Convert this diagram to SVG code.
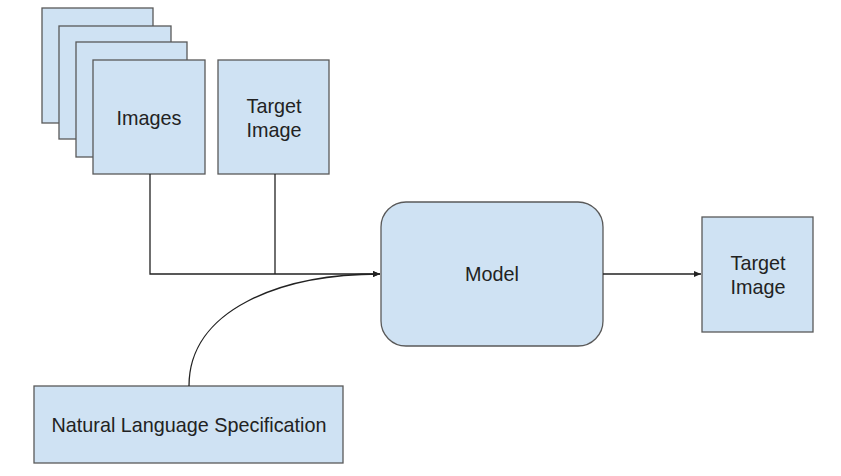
<svg xmlns="http://www.w3.org/2000/svg" width="841" height="476" viewBox="0 0 841 476">
<style>
.box{fill:#cfe2f3;stroke:#595959;stroke-width:1.3}
.t{font-family:"Liberation Sans",Arial,sans-serif;font-size:19.8px;fill:#222;text-anchor:middle;dominant-baseline:central}
.c{fill:none;stroke:#222;stroke-width:1.3}
</style>
<defs>
<marker id="ah" markerWidth="8" markerHeight="8" refX="7" refY="4" orient="auto" markerUnits="userSpaceOnUse">
<path d="M0,1 L7,4 L0,7 Z" fill="#222"/>
</marker>
</defs>
<rect width="841" height="476" fill="#fff"/>
<g id="stack">
<rect class="box" x="42" y="8" width="111" height="115"/>
<rect class="box" x="59" y="26" width="112" height="113"/>
<rect class="box" x="76" y="42" width="111" height="115"/>
</g>
<g id="images">
<rect class="box" x="93" y="60" width="112" height="114"/>
<text class="t" x="149" y="118">Images</text>
</g>
<g id="target1">
<rect class="box" x="218" y="60" width="111" height="114"/>
<text class="t" x="274" y="106">Target</text>
<text class="t" x="274" y="130">Image</text>
</g>
<g id="model">
<rect class="box" x="381" y="202" width="222" height="144" rx="25" ry="25"/>
<text class="t" x="492" y="274">Model</text>
</g>
<g id="target2">
<rect class="box" x="702" y="217" width="111" height="115"/>
<text class="t" x="758" y="263">Target</text>
<text class="t" x="758" y="287">Image</text>
</g>
<g id="nls">
<rect class="box" x="34" y="386" width="309" height="77"/>
<text class="t" x="189" y="425">Natural Language Specification</text>
</g>
<g id="connectors">
<path class="c" d="M150,174 V274 H380" marker-end="url(#ah)"/>
<path class="c" d="M275,174 V274"/>
<path class="c" d="M189,386 C189,310 280,274 380,274" marker-end="url(#ah)"/>
<path class="c" d="M603,274 H701" marker-end="url(#ah)"/>
</g>
</svg>
